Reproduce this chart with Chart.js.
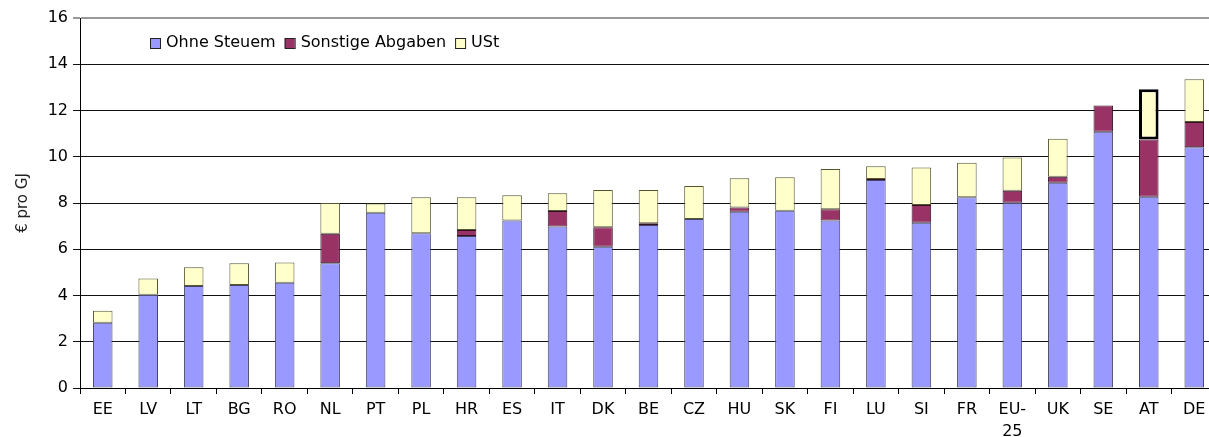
<!DOCTYPE html>
<html>
<head>
<meta charset="utf-8">
<script src="https://cdn.jsdelivr.net/npm/chart.js@4"></script>
<style>
  html, body { margin: 0; padding: 0; background: #fff; overflow: hidden; }
  #wrap { width: 1217px; height: 445px; }
</style>
</head>
<body>
<div id="wrap"><canvas id="chart" width="1217" height="445"></canvas></div>
<script>
// Data (€ pro GJ)
const countries = ["EE", "LV", "LT", "BG", "RO", "NL", "PT", "PL", "HR", "ES", "IT", "DK", "BE",
  "CZ", "HU", "SK", "FI", "LU", "SI", "FR", ["EU-", "25"], "UK", "SE", "AT", "DE"];
const ohneSteuern = [2.82, 4.03, 4.41, 4.45, 4.55, 5.40, 7.58, 6.69, 6.57, 7.24, 6.98, 6.11, 7.05,
  7.31, 7.62, 7.67, 7.24, 8.99, 7.15, 8.25, 8.01, 8.88, 11.08, 8.27, 10.41];
const sonstigeAbgaben = [0, 0, 0, 0, 0, 1.27, 0, 0, 0.26, 0, 0.67, 0.84, 0.07,
  0, 0.19, 0, 0.49, 0.05, 0.76, 0, 0.52, 0.26, 1.14, 2.48, 1.09];
const ust = [0.52, 0.71, 0.81, 0.94, 0.88, 1.33, 0.40, 1.56, 1.42, 1.09, 0.77, 1.61, 1.44,
  1.43, 1.26, 1.44, 1.74, 0.55, 1.63, 1.49, 1.44, 1.64, 0, 2.17, 1.85];
const yTicks = [0, 2, 4, 6, 8, 10, 12, 14, 16];

const FONT = "'DejaVu Sans', sans-serif";

// legend sits inside the plot, top left
const legendBox = {
  id: "legendBox",
  afterDraw(chart) {
    const ctx = chart.ctx;
    ctx.save();
    ctx.font = "16px " + FONT;
    ctx.textBaseline = "middle";
    let x = 150;
    const y = 43;
    chart.data.datasets.forEach(ds => {
      ctx.fillStyle = ds.backgroundColor;
      ctx.fillRect(x, y - 5, 10, 10);
      ctx.strokeStyle = "#222";
      ctx.lineWidth = 1;
      ctx.strokeRect(x + 0.5, y - 4.5, 10, 10);
      ctx.fillStyle = "#000";
      ctx.fillText(ds.label, x + 16, y);
      x += 16 + ctx.measureText(ds.label).width + 9;
    });
    ctx.restore();
  }
};

new Chart(document.getElementById("chart"), {
  type: "bar",
  data: {
    labels: countries,
    datasets: [
      { label: "Ohne Steuem", data: ohneSteuern, backgroundColor: "#9999FF", borderColor: "#444466" },
      { label: "Sonstige Abgaben", data: sonstigeAbgaben, backgroundColor: "#993366", borderColor: "#331122" },
      {
        label: "USt", data: ust, backgroundColor: "#FFFFCC",
        borderColor: ctx => ctx.dataIndex === 23 ? "#000" : "#555533",
        borderWidth: ctx => ctx.dataIndex === 23 ? 3 : 1
      }
    ]
  },
  options: {
    responsive: false,
    animation: false,
    devicePixelRatio: 1,
    layout: { padding: { top: 18, right: 0, bottom: 0, left: 0 } },
    datasets: {
      bar: { categoryPercentage: 1, barPercentage: 0.43, borderWidth: 1, borderSkipped: false }
    },
    plugins: {
      legend: { display: false },
      tooltip: { enabled: false }
    },
    scales: {
      x: {
        stacked: true,
        offset: true,
        grid: { offset: true, drawOnChartArea: false, color: "#000", tickLength: 6 },
        border: { color: "#000" },
        ticks: { color: "#000", font: { family: FONT, size: 16, lineHeight: 1.35 }, padding: 5, maxRotation: 0, autoSkip: false },
        afterFit: s => { s.height = 57; }
      },
      y: {
        stacked: true,
        min: 0,
        max: 16,
        afterBuildTicks: s => { s.ticks = yTicks.map(v => ({ value: v })); },
        grid: {
          color: c => c.tick && c.tick.value === 16 ? "#999" : "#111",
          lineWidth: c => c.tick && c.tick.value === 16 ? 2 : 1,
          tickLength: 7
        },
        border: { color: "#000" },
        ticks: { color: "#000", font: { family: FONT, size: 16 }, padding: 5 },
        title: { display: true, text: "€ pro GJ", color: "#222", font: { family: FONT, size: 15 }, padding: { top: 14, bottom: 0 } },
        afterFit: s => { s.width = 80; }
      }
    }
  },
  plugins: [legendBox]
});
</script>
</body>
</html>
